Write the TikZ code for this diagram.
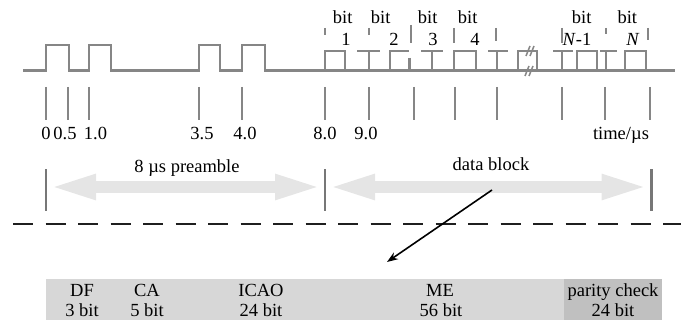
\documentclass[tikz,border=0pt]{standalone}
\usepackage{fontspec}
\setmainfont{Liberation Serif}
\usepackage{tikz}
\usetikzlibrary{arrows.meta, positioning}

\definecolor{wavegray}{HTML}{868686}
\definecolor{bargray}{HTML}{777777}
\definecolor{bandgray}{HTML}{E5E5E5}
\definecolor{fieldgray}{HTML}{D7D7D7}
\definecolor{paritygray}{HTML}{C0C0C0}

\tikzset{
  wave/.style={draw=wavegray, line width=2.5pt},
  tickmark/.style={draw=wavegray, line width=2.3pt},
  lbl/.style={inner sep=0pt, anchor=base},
  band/.style={draw=bandgray, line width=12pt,
    {Triangle[length=50pt,width=22pt]}-{Triangle[length=50pt,width=22pt]}}
}

\begin{document}
\begin{tikzpicture}[x=1pt, y=-1pt, font=\fontsize{18.5}{20}\selectfont]
  \useasboundingbox (0,0) rectangle (681,320);

  % Pulsfolge oben
  \begin{scope}
    \draw[wave] (23,70.7) -- (46,70.7) |- (69,45) |- (89,70.7) |- (111,45)
      |- (199,70.7) |- (220,45) |- (242,70.7) |- (265,45) |- (675,70.7);
    % Datenbits
    \draw[wave] (325,70.7) |- (345,51) -- (345,70.7);
    \draw[wave] (357,51) -- (380,51) (369,51) -- (369,70.7);
    \draw[wave] (390,70.7) |- (409,51) (409.7,58) -- (409.7,70.7);
    \draw[wave] (421,51) -- (443,51) (432,51) -- (432,70.7);
    \draw[wave] (454,70.7) |- (476,51) -- (476,70.7);
    \draw[wave] (488,51) -- (508,51) (497,51) -- (497,70.7);
    \draw[wave] (518,70.7) |- (537,51) -- (537,70.7);
    \draw[wave] (553,51) -- (573,51) (562,51) -- (562,70.7);
    \draw[wave] (577,70.7) |- (597,51) -- (597,70.7);
    \draw[wave] (600,51) -- (617,51) (606,51) -- (606,70.7);
    \draw[wave] (625,70.7) |- (646,51) -- (646,70.7);
    % Unterbrechung
    \draw[wavegray, line width=1.5pt] (526,56) -- (530,46) (530,56) -- (534,46)
      (525,76) -- (529,66) (529,76) -- (533,66);
    % Bitgrenzen oben
    \foreach \x/\a/\b in {325/28/35, 369/28/35, 410.7/25/43, 454/28/43,
                          496/28/41, 562/28/43, 606/28/34, 648/28/40}
      \draw[tickmark] (\x,\a) -- (\x,\b);
    % Bitbeschriftung
    \foreach \x/\n in {342.7/b1, 380.7/b2, 427.7/b3, 467.7/b4, 581.7/bn1, 627.3/bn}
      \node[lbl] (\n) at (\x,24) {bit};
    \node[lbl] (n1) at (346,45.5) {1};
    \node[lbl] (n2) at (394,45.5) {2};
    \node[lbl] (n3) at (433,45.5) {3};
    \node[lbl] (n4) at (475,45.5) {4};
    \node[lbl] (nn1) at (577,45.5) {\textit{N}-1};
    \node[lbl] (nn) at (633,45.5) {\textit{N}};
  \end{scope}

  % Zeitachse
  \foreach \x in {46,68,89,199,242,325,369,414,455,497,562,605,650}
    \draw[tickmark] (\x,87) -- (\x,120);
  \node[lbl] (t0) at (46,140) {0};
  \node[lbl] (t05) at (65,140) {0.5};
  \node[lbl] (t10) at (95.5,140) {1.0};
  \node[lbl] (t35) at (202,140) {3.5};
  \node[lbl] (t40) at (245,140) {4.0};
  \node[lbl] (t80) at (325,140) {8.0};
  \node[lbl] (t90) at (366,140) {9.0};
  \node[lbl] (tunit) at (621,140) {time/µs};

  % Praeambel und Datenblock
  \coordinate (pstart) at (46,187);
  \coordinate (pend) at (325,187);
  \coordinate (dend) at (651.5,187);
  \draw[band] (pstart) -- (pend);
  \draw[band] (pend) -- (dend);
  \foreach \c in {pstart,pend,dend}
    \draw[bargray, line width=2.5pt] ([yshift=-24pt]\c) -- ([yshift=18pt]\c);
  \node[lbl] (pre) at (187,173) {8 µs preamble};
  \node[lbl] (db) at (491,170.7) {data block};

  % Trennlinie
  \draw[black!88, line width=2.6pt, dash pattern=on 20pt off 12.5pt]
    (13,224) -- (681,224);

  % Zeiger auf Rahmen
  \coordinate (from) at (492,190);
  \coordinate (to) at (387,262);
  \draw[line width=1.6pt, -{Stealth[length=11pt,width=8pt]}] (from) -- (to);

  % Rahmenfelder
  \fill[fieldgray] (46,279.5) rectangle (564,320);
  \fill[paritygray] (564,279.5) rectangle (662,320);
  \node[lbl] (df) at (82,296.5) {DF};
  \node[lbl] (dfb) at (82,316.5) {3 bit};
  \node[lbl] (ca) at (147,296.5) {CA};
  \node[lbl] (cab) at (147,316.5) {5 bit};
  \node[lbl] (icao) at (261,296.5) {ICAO};
  \node[lbl] (icaob) at (261,316.5) {24 bit};
  \node[lbl] (me) at (440,296.5) {ME};
  \node[lbl] (meb) at (441,316.5) {56 bit};
  \node[lbl] (pc) at (613,296.5) {parity check};
  \node[lbl] (pcb) at (613,316.5) {24 bit};
\end{tikzpicture}
\end{document}
